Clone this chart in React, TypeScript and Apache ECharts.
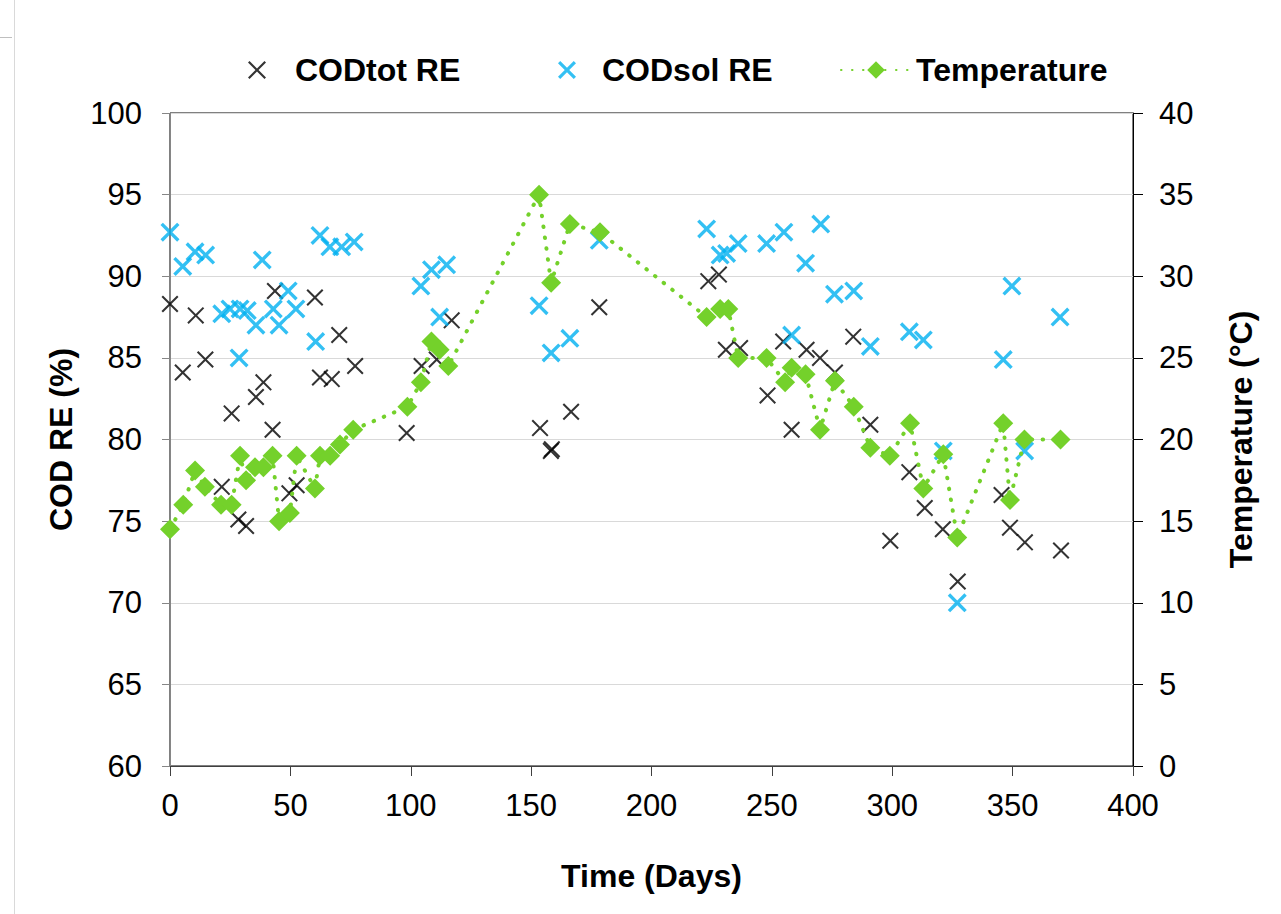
import React, { useEffect, useRef } from "react";
import * as echarts from "echarts";

// ---- Data ----
const codTotDays = [0, 5.3, 10.7, 14.7, 21.5, 25.6, 28.4, 31.6, 35.7, 38.8, 42.6, 43.6, 49.6, 52.6, 60.2, 62.3, 67.2, 70.3, 76.9, 98.3, 104.5, 110.8, 117, 153.7, 158.2, 158.6, 166.6, 178.3, 223.6, 228, 230.9, 236.8, 248.2, 254.7, 258.2, 264.4, 270, 276.2, 283.8, 290.9, 299.2, 307.1, 313.5, 321, 327.2, 345.4, 348.9, 355.1, 370.1];
const codTotValues = [88.3, 84.1, 87.6, 84.9, 77.1, 81.6, 75.1, 74.7, 82.6, 83.5, 80.6, 89.1, 76.7, 77.2, 88.7, 83.8, 83.7, 86.4, 84.5, 80.4, 84.5, 84.9, 87.3, 80.7, 79.3, 79.4, 81.7, 88.1, 89.7, 90.1, 85.5, 85.6, 82.7, 86.0, 80.6, 85.5, 85.0, 84.1, 86.3, 80.9, 73.8, 78.0, 75.8, 74.5, 71.3, 76.6, 74.6, 73.7, 73.2];

const codSolDays = [0, 5.3, 10.4, 14.8, 21.5, 24.9, 28.7, 29.1, 32.1, 35.7, 38.3, 42.9, 45.3, 49.1, 52.3, 60.5, 62.3, 66.4, 71.3, 76.5, 104.2, 108.6, 112, 114.9, 153.3, 158.3, 166.1, 178.3, 222.9, 228.5, 231.2, 236, 247.8, 255, 258.2, 264, 270.3, 276, 284, 290.9, 307.1, 312.9, 321.2, 327, 346.1, 349.7, 355, 369.7];
const codSolValues = [92.7, 90.6, 91.5, 91.3, 87.7, 88.0, 85.0, 88.0, 87.9, 87.0, 91.0, 88.0, 87.0, 89.1, 88.0, 86.0, 92.5, 91.8, 91.8, 92.1, 89.4, 90.4, 87.5, 90.7, 88.2, 85.3, 86.2, 92.2, 92.9, 91.3, 91.4, 92.0, 92.0, 92.7, 86.4, 90.8, 93.2, 88.9, 89.1, 85.7, 86.6, 86.1, 79.3, 70.0, 84.9, 89.4, 79.3, 87.5];

const tempDays = [0, 5.5, 10.4, 14.5, 21.2, 25.6, 29.1, 31.6, 35.3, 38.8, 42.6, 45.3, 49.8, 52.6, 60.2, 62.3, 66.5, 70.6, 76.1, 98.6, 104.2, 108.6, 112, 115.6, 153.3, 158.3, 166.1, 178.6, 222.9, 228.5, 231.9, 236, 247.8, 255.5, 258.2, 264, 270, 276.2, 284, 290.9, 299, 307.4, 312.9, 321.2, 327, 346.1, 348.9, 354.9, 369.9];
const tempValues = [14.5, 16.0, 18.1, 17.1, 16.0, 16.0, 19.0, 17.5, 18.3, 18.3, 19.0, 15.0, 15.5, 19.0, 17.0, 19.0, 19.0, 19.7, 20.6, 22.0, 23.5, 26.0, 25.5, 24.5, 35.0, 29.6, 33.2, 32.7, 27.5, 28.0, 28.0, 25.0, 25.0, 23.5, 24.4, 24.0, 20.6, 23.6, 22.0, 19.5, 19.0, 21.0, 17.0, 19.1, 14.0, 21.0, 16.3, 20.0, 20.0];

const seriesNames = ["CODtot RE", "CODsol RE", "Temperature"];
const axisTitles = { x: "Time (Days)", yLeft: "COD RE (%)", yRight: "Temperature (°C)" };

const zip = (xs: number[], ys: number[]) => xs.map((x, i) => [x, ys[i]]);

const crossPath = (a: number) =>
  `path://M0,${a}L${a},0L5,${5 - a}L${10 - a},0L10,${a}L${5 + a},5L10,${10 - a}L${10 - a},10L5,${5 + a}L${a},10L0,${10 - a}L${5 - a},5Z`;

const FONT = "'Liberation Sans', Arial, sans-serif";
const BLUE = "#00B0F0";
const GREEN = "#74D12B";

export default function App() {
  const ref = useRef<HTMLDivElement>(null);
  useEffect(() => {
    if (!ref.current) return;
    const chart = echarts.init(ref.current, null, { renderer: "svg" });
    const legendText = { fontFamily: FONT, fontSize: 32, fontWeight: "bold", color: "#000" };
    const option: any = {
      animation: false,
      backgroundColor: "#fff",
      textStyle: { fontFamily: FONT },
      grid: { left: 170, right: 148, top: 113, bottom: 148, show: true, borderColor: "#000", borderWidth: 1, backgroundColor: "transparent" },
      legend: [
        { data: [seriesNames[0]], left: 248, top: 54, padding: 0, itemWidth: 66, itemHeight: 18, textStyle: legendText, selectedMode: false },
        { data: [seriesNames[1]], left: 558, top: 54, padding: 0, itemWidth: 60, itemHeight: 18, textStyle: legendText, selectedMode: false },
        { data: [seriesNames[2]], left: 840, top: 54, padding: 0, itemWidth: 70, itemHeight: 22, textStyle: legendText, selectedMode: false },
      ],
      xAxis: {
        type: "value", min: 0, max: 400, interval: 50,
        name: axisTitles.x, nameLocation: "middle", nameGap: 94,
        nameTextStyle: { fontFamily: FONT, fontSize: 32, fontWeight: "bold", color: "#000" },
        axisLine: { show: true, lineStyle: { color: "#404040", width: 1 } },
        axisTick: { show: true, inside: false, length: 10, lineStyle: { color: "#404040" } },
        axisLabel: { fontFamily: FONT, fontSize: 31, color: "#000", margin: 24 },
        splitLine: { show: false },
      },
      yAxis: [
        {
          type: "value", min: 60, max: 100, interval: 5, position: "left",
          name: axisTitles.yLeft, nameLocation: "middle", nameGap: 93,
          nameTextStyle: { fontFamily: FONT, fontSize: 32, fontWeight: "bold", color: "#000" },
          axisLine: { show: true, lineStyle: { color: "#868686", width: 1 } },
          axisTick: { show: true, inside: false, length: 8, lineStyle: { color: "#868686" } },
          axisLabel: { fontFamily: FONT, fontSize: 31, color: "#000", margin: 28 },
          splitLine: { show: true, lineStyle: { color: "#D9D9D9", width: 1 } },
        },
        {
          type: "value", min: 0, max: 40, interval: 5, position: "right",
          name: axisTitles.yRight, nameLocation: "middle", nameGap: 92,
          nameTextStyle: { fontFamily: FONT, fontSize: 32, fontWeight: "bold", color: "#000" },
          axisLine: { show: true, lineStyle: { color: "#000", width: 1 } },
          axisTick: { show: true, inside: false, length: 10, lineStyle: { color: "#000" } },
          axisLabel: { fontFamily: FONT, fontSize: 31, color: "#000", margin: 26 },
          splitLine: { show: false },
        },
      ],
      graphic: [
        { type: "line", shape: { x1: 14.5, y1: 0, x2: 14.5, y2: 914 }, style: { stroke: "#D9D9D9", lineWidth: 1 }, silent: true },
        { type: "line", shape: { x1: 0, y1: 37.5, x2: 12, y2: 37.5 }, style: { stroke: "#BFBFBF", lineWidth: 1 }, silent: true },
      ],
      series: [
        {
          name: seriesNames[0], type: "scatter", yAxisIndex: 0,
          data: zip(codTotDays, codTotValues),
          symbol: crossPath(0.85), symbolSize: 17,
          itemStyle: { color: "#000" },
          emphasis: { disabled: true }, z: 2,
        },
        {
          name: seriesNames[1], type: "scatter", yAxisIndex: 0,
          data: zip(codSolDays, codSolValues),
          symbol: crossPath(1.25), symbolSize: 19,
          itemStyle: { color: BLUE },
          emphasis: { disabled: true }, z: 3,
        },
        {
          name: seriesNames[2], type: "line", yAxisIndex: 1,
          data: zip(tempDays, tempValues),
          symbol: "diamond", symbolSize: 20,
          itemStyle: { color: GREEN },
          lineStyle: { color: GREEN, width: 4, type: [0.5, 10.5], cap: "round" },
          emphasis: { disabled: true }, z: 4,
        },
      ],
    };
    chart.setOption(option);
    return () => chart.dispose();
  }, []);
  return <div ref={ref} style={{ position: "absolute", left: 0, top: 0, width: 1281, height: 914 }} />;
}
